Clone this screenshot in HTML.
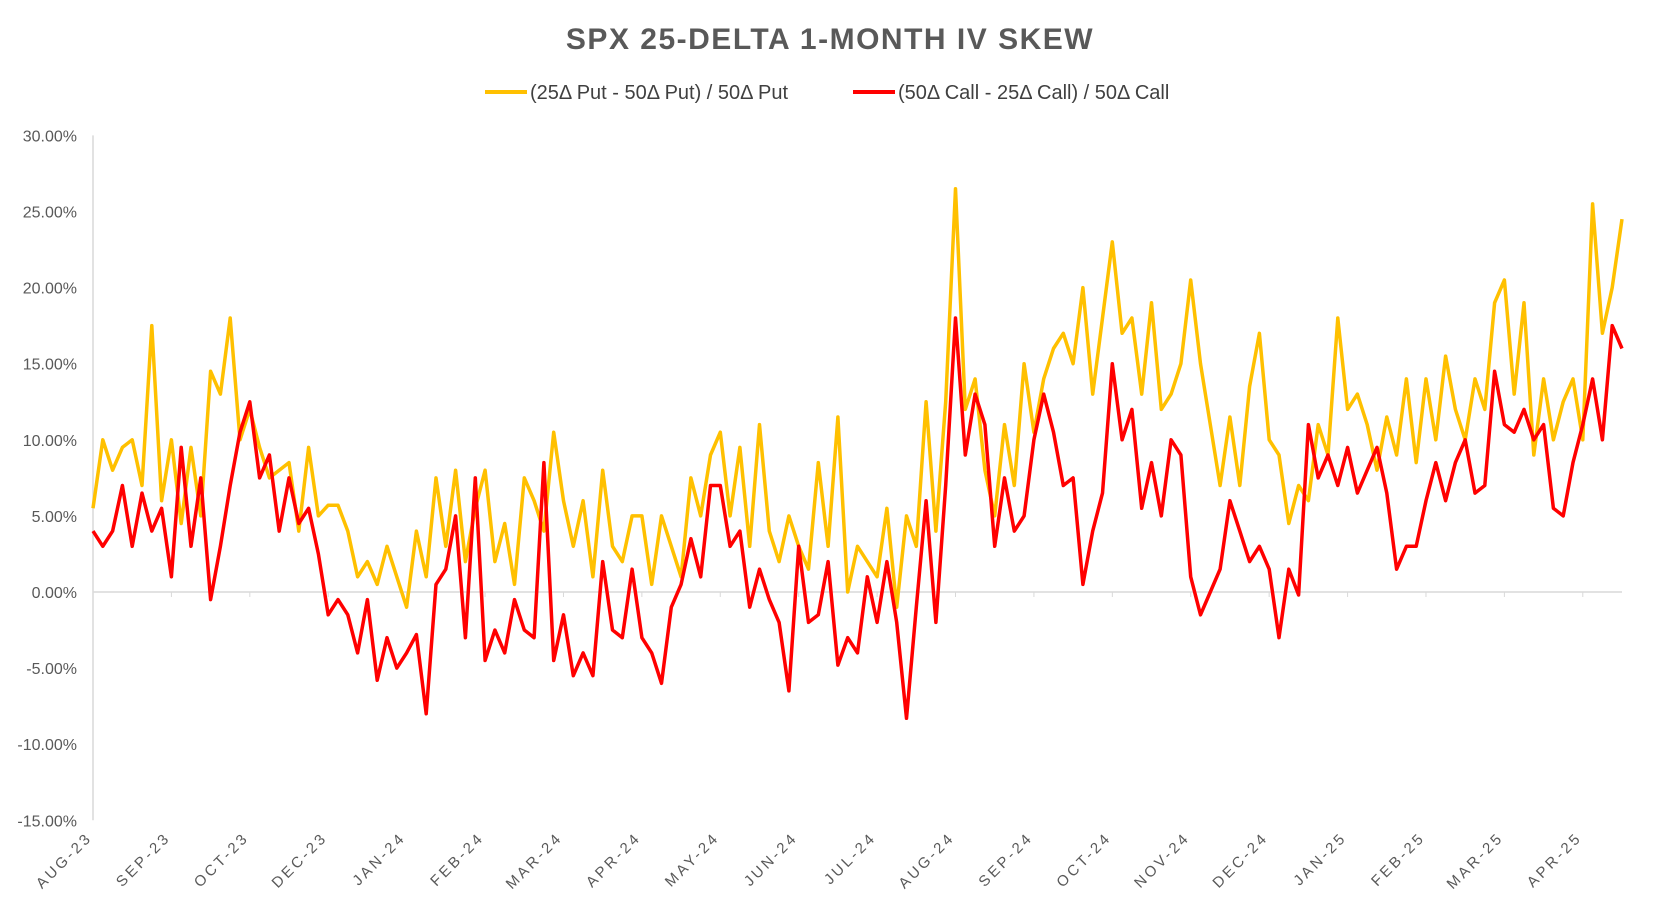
<!DOCTYPE html>
<html><head><meta charset="utf-8"><style>
body{margin:0;background:#fff;}
svg{display:block;font-family:"Liberation Sans",sans-serif;}
</style></head><body>
<svg id="chart" width="1656" height="908" viewBox="0 0 1656 908">
<text x="830" y="49" text-anchor="middle" font-size="30" font-weight="bold" fill="#595959" letter-spacing="1.5">SPX 25-DELTA 1-MONTH IV SKEW</text>
<g>
<g>
<line x1="485" y1="92" x2="527" y2="92" stroke="#FFC000" stroke-width="4"/>
<text x="530" y="99" font-size="20" fill="#404040">(25Δ Put - 50Δ Put) / 50Δ Put</text>
</g>
<g>
<line x1="853" y1="92" x2="895" y2="92" stroke="#FF0000" stroke-width="4"/>
<text x="898" y="99" font-size="20" fill="#404040">(50Δ Call - 25Δ Call) / 50Δ Call</text>
</g>
</g>
<g id="yaxis"></g>
<g id="xaxis"></g>
<g id="series"></g>
</svg>
<script>
const monthLabels=["AUG-23","SEP-23","OCT-23","DEC-23","JAN-24","FEB-24","MAR-24","APR-24","MAY-24","JUN-24","JUL-24","AUG-24","SEP-24","OCT-24","NOV-24","DEC-24","JAN-25","FEB-25","MAR-25","APR-25"];
const yTicks=[30,25,20,15,10,5,0,-5,-10,-15];
const putSkew=[5.5,10,8,9.5,10,7,17.5,6, 10,4.5,9.5,5,14.5,13,18,10, 12,9.5,7.5,8,8.5,4,9.5,5, 5.7,5.7,4,1,2,0.5,3,1,
 -1,4,1,7.5,3,8,2,5.5, 8,2,4.5,0.5,7.5,6,4,10.5, 6,3,6,1,8,3,2,5, 5,0.5,5,3,1,7.5,5,9,
 10.5,5,9.5,3,11,4,2,5, 3,1.5,8.5,3,11.5,0,3,2, 1,5.5,-1,5,3,12.5,4,12.5, 26.5,12,14,8,5,11,7,15,
 10.5,14,16,17,15,20,13,18, 23,17,18,13,19,12,13,15, 20.5,15,11,7,11.5,7,13.5,17, 10,9,4.5,7,6,11,9,18,
 12,13,11,8,11.5,9,14,8.5, 14,10,15.5,12,10,14,12,19, 20.5,13,19,9,14,10,12.5,14, 10,25.5,17,20,24.5];
const callSkew=[4,3,4,7,3,6.5,4,5.5, 1,9.5,3,7.5,-0.5,3,7,10.5, 12.5,7.5,9,4,7.5,4.5,5.5,2.5, -1.5,-0.5,-1.5,-4,-0.5,-5.8,-3,-5,
 -4,-2.8,-8,0.5,1.5,5,-3,7.5, -4.5,-2.5,-4,-0.5,-2.5,-3,8.5,-4.5, -1.5,-5.5,-4,-5.5,2,-2.5,-3,1.5, -3,-4,-6,-1,0.5,3.5,1,7,
 7,3,4,-1,1.5,-0.5,-2,-6.5, 3,-2,-1.5,2,-4.8,-3,-4,1, -2,2,-2,-8.3,-1,6,-2,7, 18,9,13,11,3,7.5,4,5,
 10,13,10.5,7,7.5,0.5,4,6.5, 15,10,12,5.5,8.5,5,10,9, 1,-1.5,0,1.5,6,4,2,3, 1.5,-3,1.5,-0.2,11,7.5,9,7,
 9.5,6.5,8,9.5,6.5,1.5,3,3, 6,8.5,6,8.5,10,6.5,7,14.5, 11,10.5,12,10,11,5.5,5,8.5, 11,14,10,17.5,16];

const NS="http://www.w3.org/2000/svg";
const X0=93,X1=1622,Y0=592,PER5=76.1;
const N=putSkew.length;
function xPos(i){return X0+i*(X1-X0)/(N-1);}
function yPos(v){return Y0-v*PER5/5;}
function mk(tag,attrs,parent){const e=document.createElementNS(NS,tag);for(const k in attrs)e.setAttribute(k,attrs[k]);parent.appendChild(e);return e;}
const ya=document.getElementById('yaxis'),xa=document.getElementById('xaxis'),sg=document.getElementById('series');
mk('line',{x1:X0,y1:yPos(30),x2:X0,y2:yPos(-15),stroke:'#d9d9d9','stroke-width':1.5},ya);
yTicks.forEach(t=>{const tx=mk('text',{x:X0-16,y:yPos(t)+6,'text-anchor':'end','font-size':16,fill:'#595959'},ya);


tx.textContent=t.toFixed(2)+'%';});
mk('line',{x1:X0,y1:Y0,x2:X1,y2:Y0,stroke:'#d9d9d9','stroke-width':1.5},xa);
monthLabels.forEach((m,k)=>{const i=Math.min(k*8,N-1);const x=xPos(i);
mk('line',{x1:x,y1:Y0,x2:x,y2:Y0+5,stroke:'#d9d9d9','stroke-width':1},xa);
const tx=mk('text',{x:x,y:yPos(-15)+18,'text-anchor':'end','font-size':15,fill:'#595959','letter-spacing':'3',transform:`rotate(-45 ${x} ${yPos(-15)+18})`},xa);


tx.textContent=m;});
function line(arr,col,name){const d=arr.map((v,i)=>(i?'L':'M')+xPos(i).toFixed(1)+' '+yPos(v).toFixed(1)).join(' ');
const p=mk('path',{d:d,fill:'none',stroke:col,'stroke-width':3.5,'stroke-linejoin':'round'},sg);

}
line(putSkew,'#FFC000','put-skew-line');
line(callSkew,'#FF0000','call-skew-line');
</script>
</body></html>
